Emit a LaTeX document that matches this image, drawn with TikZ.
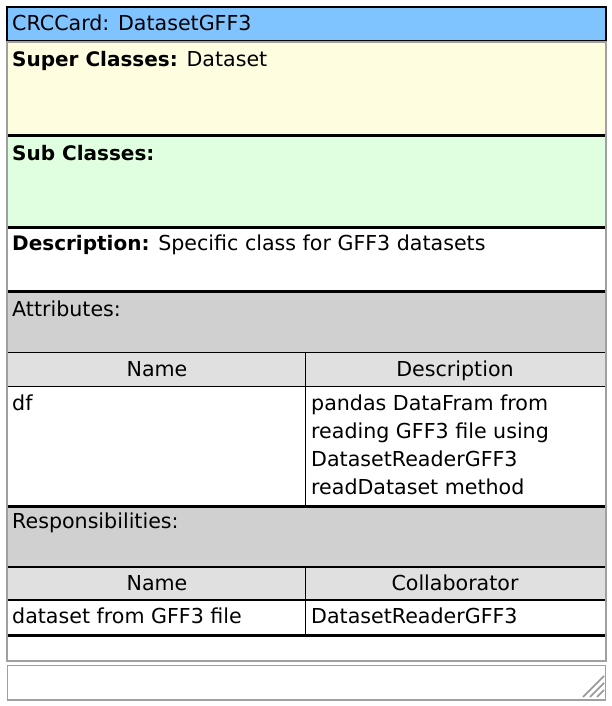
\documentclass[tikz,border=0pt]{standalone}
\usepackage{fontspec}
\setmainfont{DejaVu Sans}
\definecolor{titleblue}{RGB}{128,196,255}
\definecolor{superyellow}{RGB}{254,253,224}
\definecolor{subgreen}{RGB}{224,254,224}
\definecolor{sectiongray}{RGB}{208,208,208}
\definecolor{headgray}{RGB}{224,224,224}
\definecolor{framegray}{RGB}{160,160,160}
\definecolor{gripgray}{RGB}{150,150,150}
\newcommand{\cardlabel}[1]{{\fontsize{20}{24}\selectfont\bfseries #1}}
\begin{document}
\begin{tikzpicture}[x=1pt,y=-1pt,
  txt/.style={anchor=base west, inner sep=0pt, font=\fontsize{20.6}{24}\selectfont},
  head/.style={anchor=base, inner sep=0pt, font=\fontsize{20.6}{24}\selectfont},
  sepline/.style={line width=3pt},
  rule/.style={line width=1.4pt}]
\useasboundingbox (0,0) rectangle (612,706);
\fill[white] (0,0) rectangle (612,706);

% title bar
\draw[line width=2.4pt, fill=titleblue] (7.2,7.2) rectangle (605.8,41);
\node[txt] (title) at (12,31) {CRCCard: DatasetGFF3};

% card frame
\draw[framegray, line width=2pt] (7,42.5) rectangle (606,661);

% section fills
\fill[superyellow] (8,43.5) rectangle (604.5,134);
\fill[subgreen] (8,137) rectangle (604.5,226);
\fill[sectiongray] (8,293) rectangle (604.5,352);
\fill[headgray] (8,352) rectangle (604.5,386);
\fill[sectiongray] (8,508) rectangle (604.5,567);
\fill[headgray] (8,567) rectangle (604.5,600);

% heavy separators
\foreach \y in {135.5,227.5,291.5,506.5,635.5}
  \draw[sepline] (8,\y) -- (604.5,\y);

% attribute table rules
\draw[rule] (8,352.7) -- (604.5,352.7);
\draw[rule] (8,386.3) -- (604.5,386.3);
\draw[rule] (305.7,352) -- (305.7,505);

% responsibility table rules
\draw[rule] (8,567) -- (604.5,567);
\draw[rule] (8,600) -- (604.5,600);
\draw[rule] (305.7,567) -- (305.7,634);

% texts
\node[txt] (super) at (12,67) {\cardlabel{Super Classes:} Dataset};
\node[txt] (sub) at (12,160) {\cardlabel{Sub Classes:}};
\node[txt] (desc) at (12,250) {\cardlabel{Description:} Specific class for GFF3 datasets};
\node[txt] (attrs) at (12,316.5) {Attributes:};
\node[head] (attrname) at (157,376.5) {Name};
\node[head] (attrdesc) at (455,376.5) {Description};
\node[txt] (df) at (12,410) {df};
\node[txt] (dfdesc1) at (311,410) {pandas DataFram from};
\node[txt] (dfdesc2) at (311,438) {reading GFF3 file using};
\node[txt] (dfdesc3) at (311,466) {DatasetReaderGFF3};
\node[txt] (dfdesc4) at (311,494) {readDataset method};
\node[txt] (resps) at (12,528) {Responsibilities:};
\node[head] (respname) at (157,590) {Name};
\node[head] (respcollab) at (455,590) {Collaborator};
\node[txt] (resp1) at (12,623) {dataset from GFF3 file};
\node[txt] (collab1) at (311,623) {DatasetReaderGFF3};

% note field with resize grip
\draw[framegray, line width=1.6pt] (7.5,665.5) rectangle (605.5,700);
\foreach \d in {0,7,14}
  \draw[gripgray, line width=1.6pt] (604,676+\d) -- (583+\d,697);
\end{tikzpicture}
\end{document}
